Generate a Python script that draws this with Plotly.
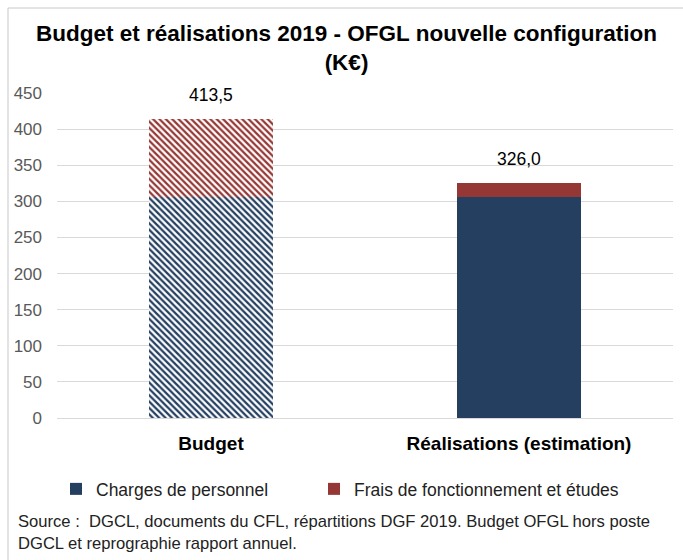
import plotly.graph_objects as go

categories = ["Budget", "Réalisations (estimation)"]
charges = [306.0, 306.0]
frais = [107.5, 20.0]
series_names = ["Charges de personnel", "Frais de fonctionnement et études"]
y_ticks = [0, 50, 100, 150, 200, 250, 300, 350, 400, 450]

BLUE = "#243F60"
RED = "#953735"
FONT = "Liberation Sans"

L, R, T, B = 57, 10, 93, 142
W, H = 683, 560
PW, PH = W - L - R, H - T - B

fig = go.Figure()

fig.add_trace(go.Bar(x=[categories[0]], y=[charges[0]], name=series_names[0],
                     legendgroup="c", showlegend=False,
                     marker=dict(color="white", line=dict(width=0),
                                 pattern=dict(shape="\\", fgcolor=BLUE, bgcolor="white",
                                              size=4.5, solidity=0.5, fillmode="replace"))))
fig.add_trace(go.Bar(x=[categories[1]], y=[charges[1]], name=series_names[0],
                     legendgroup="c", showlegend=True, legend="legend",
                     marker=dict(color=BLUE, line=dict(width=0))))
fig.add_trace(go.Bar(x=[categories[0]], y=[frais[0]], name=series_names[1],
                     legendgroup="f", showlegend=False,
                     marker=dict(color="white", line=dict(width=0),
                                 pattern=dict(shape="\\", fgcolor=RED, bgcolor="white",
                                              size=4.5, solidity=0.5, fillmode="replace"))))
fig.add_trace(go.Bar(x=[categories[1]], y=[frais[1]], name=series_names[1],
                     legendgroup="f", showlegend=True, legend="legend2",
                     marker=dict(color=RED, line=dict(width=0))))

totals = [c + f for c, f in zip(charges, frais)]
for cat, tot in zip(categories, totals):
    fig.add_annotation(x=cat, y=tot, text=f"{tot:.1f}".replace(".", ","),
                       showarrow=False, yanchor="bottom", yshift=12,
                       font=dict(family=FONT, size=17.5, color="#000000"))

fig.add_annotation(xref="paper", yref="paper", x=(16 - L) / PW, y=-(510 - T - PH) / PH,
                   xanchor="left", yanchor="top", align="left",
                   text="Source :  DGCL, documents du CFL, répartitions DGF 2019. Budget OFGL hors poste<br>DGCL et reprographie rapport annuel.",
                   showarrow=False, font=dict(family=FONT, size=16.6, color="#222222"))

# outer frame (top and left edges visible)
fig.add_shape(type="line", xref="paper", yref="paper",
              x0=(8 - L) / PW, x1=(W - L) / PW, y0=1 + (T - 8) / PH, y1=1 + (T - 8) / PH,
              line=dict(color="#c8c8c8", width=1))
fig.add_shape(type="line", xref="paper", yref="paper",
              x0=(8 - L) / PW, x1=(8 - L) / PW, y0=1 + (T - 8) / PH, y1=-(H - T - PH) / PH,
              line=dict(color="#c8c8c8", width=1))

legend_common = dict(orientation="h", xref="container", yref="container",
                     xanchor="left", yanchor="top", itemwidth=30,
                     bgcolor="rgba(0,0,0,0)",
                     font=dict(family=FONT, size=17.5, color="#222222"))

fig.update_layout(
    width=W, height=H,
    margin=dict(l=L, r=R, t=T, b=B, autoexpand=False),
    barmode="stack", bargap=0.6,
    paper_bgcolor="white", plot_bgcolor="white",
    title=dict(text="<b>Budget et réalisations 2019 - OFGL nouvelle configuration<br>(K€)</b>",
               x=0.5 + 5 / W, xref="container", xanchor="center", y=1 - 41 / H, yanchor="top",
               font=dict(family=FONT, size=22.5, color="#000000")),
    font=dict(family=FONT, color="#595959"),
    legend=dict(legend_common, x=56 / W, y=1 - 471 / H),
    legend2=dict(legend_common, x=314 / W, y=1 - 471 / H),
    xaxis=dict(tickfont=dict(family=FONT, size=19, color="#000000"),
               ticklabelstandoff=8, showline=True, linecolor="#d9d9d9", linewidth=1,
               tickprefix="<b>", ticksuffix="</b>", automargin=False),
    yaxis=dict(range=[0, 450], tickvals=y_ticks, showgrid=True, gridcolor="#d9d9d9",
               gridwidth=1, zeroline=False, automargin=False,
               tickfont=dict(family=FONT, size=17, color="#595959"),
               ticklabelstandoff=14),
)

fig.write_html("out.html", config={"displayModeBar": False},
               post_script="document.body.style.margin='0';")
